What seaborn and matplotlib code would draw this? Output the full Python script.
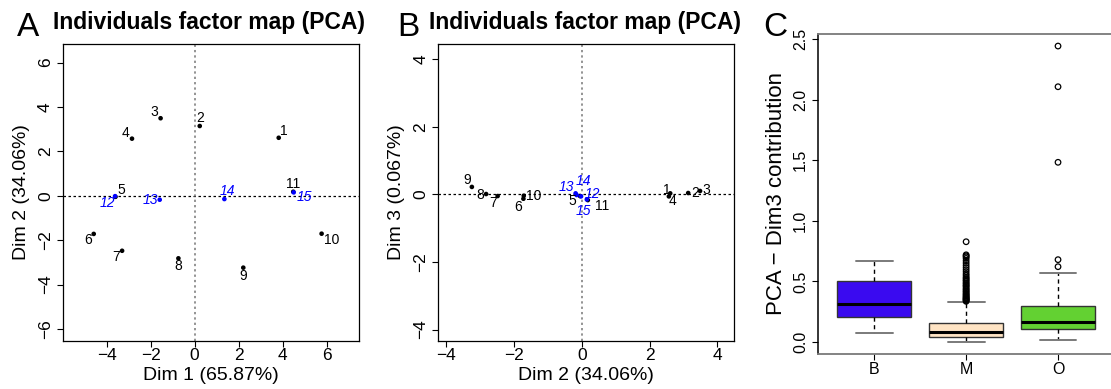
import numpy as np
import pandas as pd
import matplotlib
matplotlib.use("Agg")
import matplotlib.pyplot as plt
import seaborn as sns

# ---- PCA individual coordinates (12-15 are supplementary individuals) ----
ind_labels = ["1", "2", "3", "4", "5", "6", "7", "8", "9", "10",
              "11", "12", "13", "14", "15"]
ind_status = ["active", "active", "active", "active", "active", "active",
              "active", "active", "active", "active", "active",
              "supplementary", "supplementary", "supplementary", "supplementary"]
dim1 = [3.82, 0.23, -1.55, -2.85, -3.60, -4.59, -3.30, -0.74, 2.21, 5.77,
        4.48, -3.62, -1.59, 1.35, 4.50]
dim2 = [2.61, 3.14, 3.49, 2.57, -0.05, -1.72, -2.48, -2.82, -3.24, -1.71,
        0.18, -0.02, -0.18, -0.15, 0.15]
dim3 = [0.03, 0.04, 0.10, -0.06, -0.05, -0.13, -0.05, 0.01, 0.22, -0.04,
        -0.17, -0.06, 0.03, -0.02, -0.15]
dim_names = ["Dim 1 (65.87%)", "Dim 2 (34.06%)", "Dim 3 (0.067%)"]
map_title = "Individuals factor map (PCA)"

# ---- Dim3 contribution per group: box summary and outliers ----
groups = ["B", "M", "O"]
box_low = [0.077, 0.000, 0.014]
box_q1 = [0.209, 0.039, 0.105]
box_med = [0.311, 0.080, 0.168]
box_q3 = [0.504, 0.157, 0.300]
box_high = [0.671, 0.328, 0.567]
m_outliers = [0.336, 0.342, 0.347, 0.353, 0.358, 0.364, 0.371, 0.378, 0.386,
              0.394, 0.402, 0.413, 0.421, 0.432, 0.44, 0.452, 0.463, 0.47,
              0.482, 0.49, 0.503, 0.512, 0.524, 0.533, 0.548, 0.562, 0.58,
              0.597, 0.615, 0.633, 0.652, 0.671, 0.69, 0.703, 0.712, 0.72,
              0.828]
o_outliers = [0.622, 0.680, 1.484, 2.108, 2.444]
contrib_label = "PCA \u2212 Dim3 contribution"

# label offsets around each point, in pixels (dx, dy)
offs_a = [(5, 7), (0, 8), (-6, 6), (-6, 6), (6, 7), (-6, -6), (-6, -6),
          (0, -8), (0, -8), (10, -6), (0, 8), (-8, -7), (-9, 0), (3, 8), (11, -5)]
offs_b = [(-3, 3), (7, 0), (6, 1), (4, -5), (-8, -5), (-5, -8), (-5, -7),
          (-6, -1), (-5, 7), (10, 0), (14, -6), (11, 2), (-9, 6), (7, 14), (-3, -12)]

sns.set_style("white")
plt.rcParams["font.family"] = ["Liberation Sans", "DejaVu Sans"]
plt.rcParams["axes.unicode_minus"] = True
for key in ["text.color", "axes.labelcolor", "xtick.color", "ytick.color",
            "xtick.labelcolor", "ytick.labelcolor"]:
    plt.rcParams[key] = "black"

W, H = 1111, 389
fig = plt.figure(figsize=(W / 100, H / 100), dpi=100)


def px_axes(left, top, right, bottom):
    return fig.add_axes([left / W, (H - bottom) / H, (right - left) / W, (bottom - top) / H])


point_palette = {"active": "black", "supplementary": "#0000FF"}


def factor_map(ax, xs, ys, offs, xlim, ylim, xticks, yticks, xlabel, ylabel):
    ax.axhline(0, color="black", lw=0.9, ls=(0, (2, 2)), zorder=1)
    ax.axvline(0, color="#777777", lw=1.1, ls=(0, (1.5, 2)), zorder=1)
    sns.scatterplot(x=xs, y=ys, hue=ind_status, palette=point_palette, s=11,
                    linewidth=0, legend=False, ax=ax, zorder=3)
    for lab, st, x, y, (dx, dy) in zip(ind_labels, ind_status, xs, ys, offs):
        sup = st == "supplementary"
        ax.annotate(lab, (x, y), xytext=(dx, dy), textcoords="offset pixels",
                    ha="center", va="center", fontsize=10,
                    color=point_palette[st], style="italic" if sup else "normal")
    ax.set_xlim(*xlim)
    ax.set_ylim(*ylim)
    ax.set_xticks(xticks)
    ax.set_yticks(yticks)
    ax.set_xlabel(xlabel, fontsize=14, labelpad=3)
    ax.set_ylabel(ylabel, fontsize=14, labelpad=6)
    ax.tick_params(axis="both", direction="out", length=4, width=0.8,
                   labelsize=12.5, color="black", labelcolor="black",
                   bottom=True, left=True)
    ax.tick_params(axis="x", pad=1)
    ax.tick_params(axis="y", pad=3)
    for lab in ax.get_yticklabels():
        lab.set_rotation(90)
        lab.set_va("center")
    for sp in ax.spines.values():
        sp.set_color("black")
        sp.set_linewidth(0.9)


# ---- A: Dim 1 vs Dim 2 ----
axA = px_axes(62.7, 44.3, 359, 340.7)
factor_map(axA, dim1, dim2, offs_a, (-6.0, 7.47), (-6.53, 6.82),
           [-4, -2, 0, 2, 4, 6], [-6, -4, -2, 0, 2, 4, 6],
           dim_names[0], dim_names[1])

# ---- B: Dim 2 vs Dim 3 ----
axB = px_axes(438.3, 44.3, 734.3, 340.7)
factor_map(axB, dim2, dim3, offs_b, (-4.23, 4.50), (-4.33, 4.44),
           [-4, -2, 0, 2, 4], [-4, -2, 0, 2, 4],
           dim_names[1], dim_names[2])

# ---- C: boxplots of Dim3 contribution ----
axC = px_axes(817.7, 33.7, 1115, 354)
box_df = pd.DataFrame({
    "group": np.repeat(groups, 5),
    "value": np.column_stack([box_low, box_q1, box_med, box_q3, box_high]).ravel(),
})
box_colors = {"B": "#3A0AF0", "M": "#FFE4C4", "O": "#63D132"}
sns.boxplot(data=box_df, x="group", y="value", hue="group", order=groups,
            hue_order=groups, palette=box_colors, saturation=1, legend=False,
            width=0.8, whis=1.5, showfliers=False, ax=axC, linewidth=1.0,
            linecolor="#333333",
            medianprops={"color": "black", "linewidth": 2.2},
            whiskerprops={"color": "black", "linestyle": (0, (3, 2.5)), "linewidth": 1.0},
            capprops={"color": "#7a7a7a", "linewidth": 1.4})
out_df = pd.DataFrame({
    "group": ["M"] * len(m_outliers) + ["O"] * len(o_outliers),
    "value": m_outliers + o_outliers,
})
n_before = len(axC.collections)
sns.stripplot(data=out_df, x="group", y="value", order=groups, jitter=False,
              color="black", size=4, ax=axC, zorder=4)
for coll in axC.collections[n_before:]:
    coll.set_facecolor("none")
    coll.set_edgecolor("black")
    coll.set_linewidth(0.9)

axC.set_xlim(-0.615, 2.62)
axC.set_ylim(-0.099, 2.546)
axC.set_xticks([0, 1, 2])
axC.set_xticklabels(groups)
axC.set_yticks([0.0, 0.5, 1.0, 1.5, 2.0, 2.5])
axC.set_yticklabels(["0.0", "0.5", "1.0", "1.5", "2.0", "2.5"])
axC.set_xlabel("")
axC.set_ylabel(contrib_label, fontsize=16, labelpad=4)
axC.tick_params(axis="both", direction="out", length=4, width=0.8,
                labelsize=11.5, color="black", labelcolor="black",
                bottom=True, left=True)
axC.tick_params(axis="x", pad=2)
axC.tick_params(axis="y", pad=3)
for lab in axC.get_yticklabels():
    lab.set_rotation(90)
    lab.set_va("center")
for name, sp in axC.spines.items():
    sp.set_visible(True)
    sp.set_color("black" if name == "left" else "#7a7a7a")
    sp.set_linewidth(1.1 if name == "left" else 1.3)
    sp.set_zorder(5)

# ---- panel letters and titles ----
fig.text(17 / W, (H - 36) / H, "A", fontsize=24, va="baseline", ha="left")
fig.text(397 / W, (H - 36) / H, "B", fontsize=24, va="baseline", ha="left")
fig.text(763 / W, (H - 36) / H, "C", fontsize=24, va="baseline", ha="left")
fig.text(53 / W, (H - 28.5) / H, map_title, fontsize=16.5, fontweight="bold",
         va="baseline", ha="left")
fig.text(429 / W, (H - 28.5) / H, map_title, fontsize=16.5, fontweight="bold",
         va="baseline", ha="left")

fig.savefig("out.png", dpi=100)
